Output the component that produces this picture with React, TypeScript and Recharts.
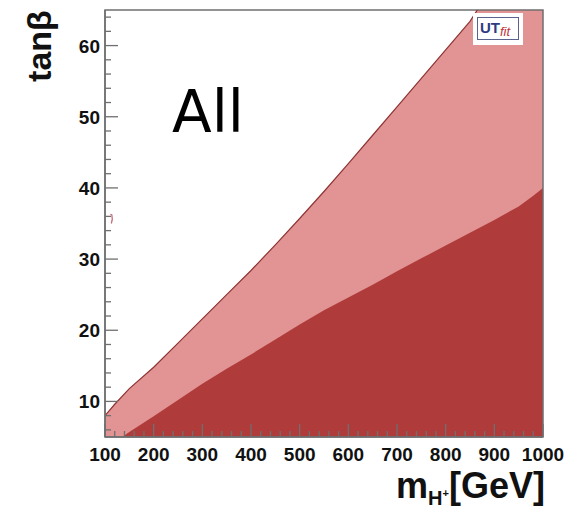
import React from "react";
import {
  ComposedChart,
  Area,
  Line,
  Scatter,
  XAxis,
  YAxis,
  ReferenceArea,
  ReferenceLine,
} from "recharts";

// ---- data ----
// upper edge of the light (pink) region: tanβ vs m_H+ [GeV]
const upperMass = [100, 120, 150, 200, 250, 300, 350, 400, 450, 500, 550, 600, 650, 700, 750, 800, 850, 865, 900, 950, 1000];
const upperTan = [8.0, 9.6, 11.8, 14.8, 18.2, 21.6, 25.0, 28.4, 32.0, 35.7, 39.5, 43.4, 47.4, 51.4, 55.4, 59.4, 63.4, 65, 65, 65, 65];

// upper edge of the dark region
const lowerMass = [135, 150, 200, 250, 300, 350, 400, 450, 500, 550, 600, 650, 700, 750, 800, 850, 900, 950, 980, 1000];
const lowerTan = [5.0, 5.7, 7.9, 10.2, 12.5, 14.6, 16.6, 18.7, 20.8, 22.8, 24.6, 26.4, 28.3, 30.1, 31.9, 33.7, 35.5, 37.4, 38.9, 40.0];

// small isolated contour near m=110
const islandMass = [111, 114, 115, 113];
const islandTan = [36.3, 36.2, 35.6, 35.0];

const xMajorTicks = [100, 200, 300, 400, 500, 600, 700, 800, 900, 1000];
const xMinorTicks = [120, 140, 160, 180, 220, 240, 260, 280, 320, 340, 360, 380, 420, 440, 460, 480, 520, 540, 560, 580, 620, 640, 660, 680, 720, 740, 760, 780, 820, 840, 860, 880, 920, 940, 960, 980];
const yMajorTicks = [10, 20, 30, 40, 50, 60];
const yMinorTicks = [6, 8, 12, 14, 16, 18, 22, 24, 26, 28, 32, 34, 36, 38, 42, 44, 46, 48, 52, 54, 56, 58, 62, 64];

const xTitle = "m";
const xTitleSub = "H";
const xTitleSup = "+";
const xTitleUnit = "[GeV]";
const yTitle = "tanβ";
const panelLabel = "All";

// ---- build table ----
const allMass = Array.from(new Set([...upperMass, ...lowerMass])).sort((a, b) => a - b);
const rows = allMass.map((m) => {
  const ui = upperMass.indexOf(m);
  const li = lowerMass.indexOf(m);
  const up = ui >= 0 ? upperTan[ui] : undefined;
  return {
    m,
    upper: up,
    edge: ui >= 0 && m <= 865 ? up : undefined,
    lower: li >= 0 ? lowerTan[li] : undefined,
  };
});
const islandData = islandMass.map((m, i) => ({ m, t: islandTan[i] }));

const AXIS = "#6f6f6f";
const PINK = "#e29393";
const DARK = "#b03b3b";
const EDGE = "#8e3434";
const FONT = "'Liberation Sans', Arial, Helvetica, sans-serif";

const XTick = (props: any) => {
  const { x, y, payload } = props;
  return (
    <text x={x} y={y + 24} textAnchor="middle" fontFamily={FONT} fontWeight="bold" fontSize={19} fill="#111">
      {payload.value}
    </text>
  );
};

const YTick = (props: any) => {
  const { x, y, payload } = props;
  return (
    <text x={x - 5} y={y + 7} textAnchor="end" fontFamily={FONT} fontWeight="bold" fontSize={19} fill="#111">
      {payload.value}
    </text>
  );
};

// inward tick marks drawn on top of the filled regions
const xTickShape = (len: number) => (p: any) => {
  const bottom = Math.max(p.y1, p.y2);
  return <line x1={p.x1} x2={p.x1} y1={bottom} y2={bottom - len} stroke={AXIS} strokeWidth={1.3} />;
};
const yTickShape = (len: number) => (p: any) => {
  const left = Math.min(p.x1, p.x2);
  return <line x1={left} x2={left + len} y1={p.y1} y2={p.y1} stroke={AXIS} strokeWidth={1.3} />;
};

export default function App() {
  return (
    <div style={{ position: "absolute", left: 0, top: 0, width: 570, height: 508, background: "#fff", overflow: "hidden" }}>
      <ComposedChart width={570} height={508} data={rows} margin={{ top: 10, right: 27, bottom: 0, left: 0 }}>
        <XAxis
          dataKey="m"
          type="number"
          domain={[100, 1000]}
          ticks={xMajorTicks}
          interval={0}
          height={71}
          tickSize={0}
          tickMargin={0}
          tickLine={false}
          axisLine={{ stroke: AXIS, strokeWidth: 1.5 }}
          tick={<XTick />}
          allowDataOverflow
        />
        <YAxis
          type="number"
          domain={[5, 65]}
          ticks={yMajorTicks}
          interval={0}
          width={105}
          tickSize={0}
          tickMargin={0}
          tickLine={false}
          axisLine={{ stroke: AXIS, strokeWidth: 1.5 }}
          tick={<YTick />}
          allowDataOverflow
        />
        <Area
          type="linear"
          dataKey="upper"
          baseValue={5}
          fill={PINK}
          fillOpacity={1}
          stroke="none"
          connectNulls
          isAnimationActive={false}
          dot={false}
          activeDot={false}
        />
        <Area
          type="linear"
          dataKey="lower"
          baseValue={5}
          fill={DARK}
          fillOpacity={1}
          stroke="none"
          connectNulls
          isAnimationActive={false}
          dot={false}
          activeDot={false}
        />
        <Line
          type="linear"
          dataKey="edge"
          stroke={EDGE}
          strokeWidth={1.2}
          dot={false}
          activeDot={false}
          connectNulls
          isAnimationActive={false}
        />
        <Scatter
          data={islandData}
          dataKey="t"
          line={{ stroke: "#c66a7a", strokeWidth: 1.3 }}
          shape={() => null}
          isAnimationActive={false}
        />
        {xMajorTicks.map((v) => (
          <ReferenceLine key={"xM" + v} x={v} ifOverflow="visible" shape={xTickShape(13)} />
        ))}
        {xMinorTicks.map((v) => (
          <ReferenceLine key={"xm" + v} x={v} ifOverflow="visible" shape={xTickShape(6)} />
        ))}
        {yMajorTicks.map((v) => (
          <ReferenceLine key={"yM" + v} y={v} ifOverflow="visible" shape={yTickShape(13)} />
        ))}
        {yMinorTicks.map((v) => (
          <ReferenceLine key={"ym" + v} y={v} ifOverflow="visible" shape={yTickShape(6)} />
        ))}
        <ReferenceArea x1={100} x2={1000} y1={5} y2={65} fill="none" stroke={AXIS} strokeWidth={1.5} ifOverflow="visible" />
      </ComposedChart>

      {/* y title */}
      <div
        style={{
          position: "absolute",
          left: 39,
          top: 46,
          transform: "translate(-50%, -50%) rotate(-90deg)",
          fontFamily: FONT,
          fontWeight: "bold",
          fontSize: 34,
          lineHeight: 1,
          whiteSpace: "nowrap",
          color: "#111",
        }}
      >
        {yTitle}
      </div>

      {/* x title */}
      <div
        style={{
          position: "absolute",
          right: 25,
          top: 468,
          fontFamily: FONT,
          fontWeight: "bold",
          fontSize: 36,
          lineHeight: 1,
          whiteSpace: "nowrap",
          color: "#111",
        }}
      >
        {xTitle}
        <span style={{ fontSize: 20, position: "relative", top: 7 }}>
          {xTitleSub}
          <span style={{ fontSize: 11, position: "relative", top: -8 }}>{xTitleSup}</span>
        </span>
        {xTitleUnit}
      </div>

      {/* panel label */}
      <div
        style={{
          position: "absolute",
          left: 172,
          top: 83,
          fontFamily: "'Comic Sans MS', 'DejaVu Sans', sans-serif",
          fontSize: 58,
          lineHeight: 1,
          color: "#000",
        }}
      >
        {panelLabel}
      </div>

      {/* UTfit logo */}
      <div style={{ position: "absolute", left: 473, top: 13, width: 50, height: 32, background: "#fff" }}>
        <div
          style={{
            position: "absolute",
            left: 4,
            top: 4,
            width: 42,
            height: 23,
            border: "1.5px solid #5a6390",
            boxSizing: "border-box",
            fontFamily: FONT,
            lineHeight: 1,
            whiteSpace: "nowrap",
          }}
        >
          <span style={{ position: "absolute", left: 2, top: 2, fontSize: 15, fontWeight: "bold", color: "#2e3a82" }}>UT</span>
          <span style={{ position: "absolute", left: 22, top: 7, fontSize: 13, fontStyle: "italic", color: "#c0303c" }}>fit</span>
        </div>
      </div>
    </div>
  );
}
